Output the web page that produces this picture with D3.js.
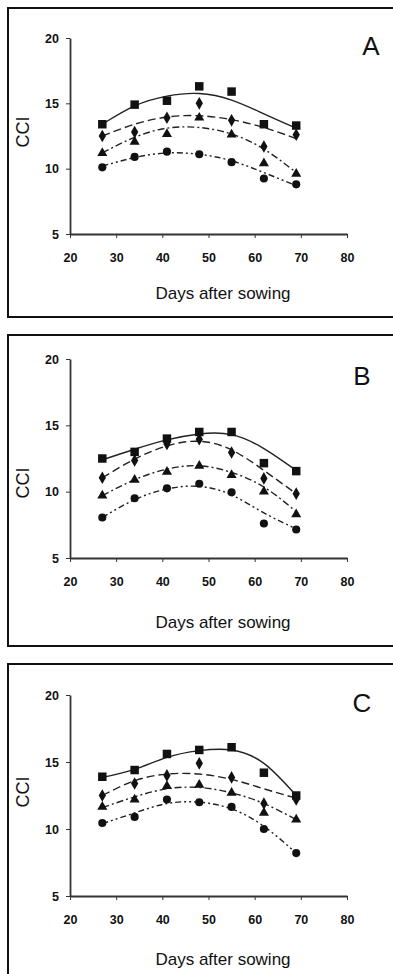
<!DOCTYPE html>
<html>
<head>
<meta charset="utf-8">
<script src="https://cdn.jsdelivr.net/npm/d3@7"></script>
<style>
  body { margin: 0; background: #fff; }
  svg { display: block; }
  .tick text { font-family: "Liberation Sans Narrow", "Liberation Sans", Arial, sans-serif; font-weight: bold; font-size: 12.5px; fill: #111; }
  .axis path, .axis line { stroke: #333; }
  .axis path { stroke-width: 1.8; }
  .lbl { font-family: "Liberation Sans", Arial, sans-serif; fill: #111; }
</style>
</head>
<body>
<div id="chart"></div>
<script>
// x values (days after sowing) and tick values
const days = [27, 34, 41, 48, 55, 62, 69];
const xTicks = [20, 30, 40, 50, 60, 70, 80];
const yTicks = [5, 10, 15, 20];
const panelLabels = ['A', 'B', 'C'];

// Panel A – measured CCI
const aSquare = [13.4, 14.9, 15.2, 16.3, 15.9, 13.4, 13.3];
const aDiamond = [12.5, 12.8, 13.9, 15.0, 13.7, 11.7, 12.6];
const aTriangle = [11.2, 12.05, 12.65, 13.9, 12.6, 10.4, 9.6];
const aCircle = [10.1, 10.9, 11.3, 11.1, 10.5, 9.25, 8.8];
// Panel A – trend lines
const aSquareFit = [13.4, 14.8, 15.55, 15.75, 15.25, 14.2, 13.1];
const aDiamondFit = [12.5, 13.4, 13.95, 14.05, 13.75, 13.15, 12.3];
const aTriangleFit = [11.2, 12.4, 13.1, 13.15, 12.65, 11.5, 9.7];
const aCircleFit = [10.2, 10.85, 11.2, 11.1, 10.6, 9.7, 8.7];

// Panel B
const bSquare = [12.5, 13.0, 14.0, 14.5, 14.5, 12.15, 11.55];
const bDiamond = [11.05, 12.35, 13.6, 13.95, 12.95, 11.0, 9.85];
const bTriangle = [9.7, 10.9, 11.5, 11.95, 11.25, 10.0, 8.3];
const bCircle = [8.05, 9.5, 10.25, 10.6, 9.95, 7.6, 7.15];
const bSquareFit = [12.4, 13.2, 13.9, 14.35, 14.3, 13.25, 11.6];
const bDiamondFit = [11.05, 12.45, 13.45, 13.8, 13.15, 11.6, 9.85];
const bTriangleFit = [9.7, 10.9, 11.7, 11.95, 11.45, 10.35, 8.5];
const bCircleFit = [8.05, 9.4, 10.2, 10.4, 9.75, 8.4, 7.2];

// Panel C
const cSquare = [13.9, 14.4, 15.6, 15.9, 16.1, 14.2, 12.5];
const cDiamond = [12.5, 13.4, 14.0, 14.9, 13.85, 11.9, 12.2];
const cTriangle = [11.65, 12.2, 13.2, 13.3, 12.7, 11.2, 10.7];
const cCircle = [10.45, 10.9, 12.2, 12.0, 11.65, 10.0, 8.2];
const cSquareFit = [13.85, 14.45, 15.35, 15.85, 15.9, 14.9, 12.5];
const cDiamondFit = [12.5, 13.6, 14.1, 14.1, 13.7, 13.0, 12.3];
const cTriangleFit = [11.6, 12.4, 13.0, 13.1, 12.7, 11.9, 10.7];
const cCircleFit = [10.4, 11.2, 11.9, 12.0, 11.5, 10.2, 8.2];

const panelData = [
  { pts: [aSquare, aDiamond, aTriangle, aCircle], fits: [aSquareFit, aDiamondFit, aTriangleFit, aCircleFit] },
  { pts: [bSquare, bDiamond, bTriangle, bCircle], fits: [bSquareFit, bDiamondFit, bTriangleFit, bCircleFit] },
  { pts: [cSquare, cDiamond, cTriangle, cCircle], fits: [cSquareFit, cDiamondFit, cTriangleFit, cCircleFit] }
];

// layout of each framed panel
const layout = [
  { boxTop: 8, boxBottom: 317, top: 38, bottom: 234, xlabelY: 293, cciY: 132, letterX: 371, letterY: 55 },
  { boxTop: 335, boxBottom: 646, top: 359, bottom: 558, xlabelY: 622, cciY: 483, letterX: 362, letterY: 385 },
  { boxTop: 664, boxBottom: 1000, top: 695, bottom: 896, xlabelY: 959, cciY: 792, letterX: 362, letterY: 712 }
];

const symbols = [d3.symbolSquare, d3.symbolDiamond, d3.symbolTriangle, d3.symbolCircle];
const symSizes = [72, 46, 44, 52];
const dashes = [null, '8,4', '7,3,2,3', '6,3,2,3,2,3'];

const svg = d3.select('#chart').append('svg')
  .attr('width', 393)
  .attr('height', 974);

panelData.forEach(function (p, i) {
  const L = layout[i];

  // frame
  svg.append('rect')
    .attr('x', 8).attr('y', L.boxTop)
    .attr('width', 400).attr('height', L.boxBottom - L.boxTop)
    .attr('fill', 'none').attr('stroke', '#111').attr('stroke-width', 2);

  const x = d3.scaleLinear().domain([20, 80]).range([70, 347]);
  const y = d3.scaleLinear().domain([5, 20]).range([L.bottom, L.top]);

  svg.append('g')
    .attr('class', 'axis')
    .attr('transform', `translate(70,0)`)
    .call(d3.axisLeft(y).tickValues(yTicks).tickSize(4).tickSizeOuter(0).tickPadding(7));

  svg.append('g')
    .attr('class', 'axis')
    .attr('transform', `translate(0,${L.bottom})`)
    .call(d3.axisBottom(x).tickValues(xTicks).tickSize(4).tickSizeOuter(0).tickPadding(15));

  // trend lines
  const line = d3.line()
    .x((d, j) => x(days[j]))
    .y(d => y(d))
    .curve(d3.curveNatural);

  p.fits.forEach(function (f, k) {
    svg.append('path')
      .datum(f)
      .attr('fill', 'none')
      .attr('stroke', '#222')
      .attr('stroke-width', 1.4)
      .attr('stroke-dasharray', dashes[k])
      .attr('d', line);
  });

  // markers
  p.pts.forEach(function (s, k) {
    svg.append('g').selectAll('path')
      .data(s)
      .enter().append('path')
      .attr('transform', (d, j) => `translate(${x(days[j])},${y(d)})`)
      .attr('d', d3.symbol().type(symbols[k]).size(symSizes[k]))
      .attr('fill', '#111');
  });

  svg.append('text')
    .attr('class', 'lbl')
    .attr('x', 223).attr('y', L.xlabelY + 6)
    .attr('text-anchor', 'middle')
    .attr('font-size', 17)
    .text('Days after sowing');

  svg.append('text')
    .attr('class', 'lbl')
    .attr('transform', `translate(29,${L.cciY}) rotate(-90)`)
    .attr('text-anchor', 'middle')
    .attr('font-size', 18)
    .text('CCI');

  svg.append('text')
    .attr('class', 'lbl')
    .attr('x', L.letterX).attr('y', L.letterY)
    .attr('text-anchor', 'middle')
    .attr('font-size', 26)
    .text(panelLabels[i]);
});
</script>
</body>
</html>
